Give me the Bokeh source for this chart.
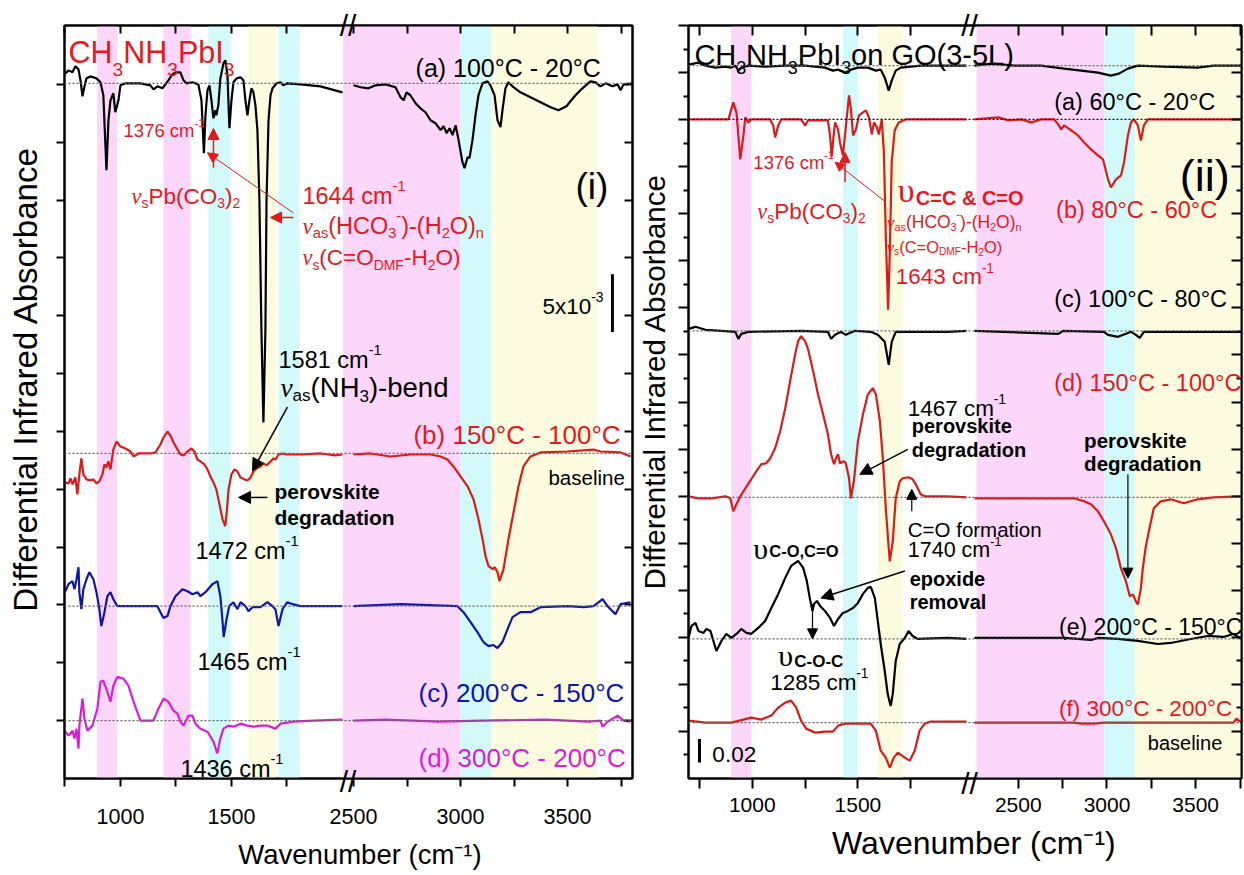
import numpy as np
from bokeh.plotting import figure
from bokeh.layouts import row
from bokeh.models import (Range1d, LinearAxis, FixedTicker, CustomJSTickFormatter,
                          BoxAnnotation, Span, Label, Arrow, NormalHead)
from bokeh.embed import file_html
from bokeh.resources import INLINE

FONT = "Liberation Sans"
SERIF = "Liberation Serif"
RED_TXT = "#e3191f"
RED = "#d81c1c"
BLUE = "#1016a6"
MAGENTA = "#d81ed8"
PINK, CYAN, YELLOW = "#fcd7f9", "#d3fafa", "#fcfbdf"
NBSP = "\u00a0"

# ---------------------------------------------------------------------------
# Panel (i): CH3NH3PbI3 film, differential spectra (values in 10^-3 absorbance)
# ---------------------------------------------------------------------------
i_a_wn = [752, 766, 784, 797, 811, 820, 829, 838, 847, 865, 892, 910, 923, 937, 946, 955, 968, 977,
          991, 1000, 1023, 1090, 1135, 1149, 1167, 1189, 1216, 1234, 1252, 1270, 1284, 1297, 1324,
          1351, 1365, 1376, 1383, 1392, 1401, 1410, 1419, 1428, 1432, 1441, 1450, 1464, 1473, 1482,
          1491, 1500, 1509, 1523, 1541, 1554, 1563, 1572, 1581, 1590, 1599, 1608, 1617, 1626, 1635,
          1644, 1653, 1658, 1667, 1676, 1685, 1703, 1721, 1734, 1752, 1811, 1901, 2000,
          2500, 2533, 2570, 2603, 2650, 2696, 2720, 2734, 2748, 2766, 2790, 2813, 2836, 2860, 2883,
          2907, 2921, 2935, 2949, 2963, 2977, 2991, 3009, 3019, 3033, 3042, 3056, 3070, 3084, 3103,
          3126, 3140, 3159, 3173, 3187, 3196, 3210, 3224, 3243, 3280, 3327, 3374, 3421, 3458, 3495,
          3537, 3570, 3607, 3631, 3654, 3678, 3710, 3734, 3748, 3762, 3804]
i_a_val = [0.86, 1.12, 0.95, 1.47, 1.21, 0.26, -1.12, -0.26, 0.43, 0.60, 0.43, 0.09, -1.03, -7.50,
           -3.19, -1.47, -0.86, -2.50, -1.47, -0.17, 0, 0, -0.17, -0.52, -0.26, -0.43, 0.26, 0.78,
           0.95, 0.95, 0.26, 0, 0.09, -0.09, -1.47, -6.03, -2.76, -0.60, -0.17, -1.47, -3.02, -2.33,
           -2.76, -1.90, 0.43, 1.72, 1.98, 0.69, -3.88, -1.47, 0.09, 0.43, 0.52, 0.26, -1.47, -2.76,
           -1.47, -0.43, -0.78, -1.90, -4.05, -10.09, -21.29, -29.31, -21.29, -10.09, -3.19, -1.03,
           -0.43, 0, 0.09, -0.17, 0, -0.09, -0.26, -0.78,
           -0.17, -0.34, -0.43, -0.17, -0.09, -0.34, -1.21, -1.47, -0.78, -1.03, -1.72, -2.16, -2.50,
           -3.19, -3.45, -4.05, -3.71, -4.31, -3.88, -4.48, -3.62, -4.91, -6.81, -7.33, -6.38, -6.47,
           -4.91, -2.76, -1.03, 0, 0.17, -0.17, -1.03, -3.19, -3.79, -2.33, -0.43, 0.09, -0.26, -0.78,
           -1.21, -1.64, -2.07, -2.33, -1.98, -1.03, -0.43, 0.17, 0.09, -0.26, 0, -0.26, -0.09, -0.60,
           -0.09, 0]

i_b_wn = [752, 766, 775, 784, 797, 806, 815, 824, 833, 847, 865, 878, 892, 905, 919, 928, 937, 946,
          955, 968, 982, 1000, 1023, 1045, 1059, 1081, 1135, 1158, 1180, 1194, 1212, 1225, 1239, 1257,
          1270, 1284, 1302, 1320, 1333, 1347, 1360, 1378, 1392, 1405, 1419, 1432, 1446, 1460, 1472,
          1478, 1487, 1500, 1514, 1527, 1541, 1559, 1572, 1586, 1599, 1613, 1631, 1644, 1658, 1676,
          1689, 1698, 1712, 1730, 1752, 1811, 1901, 1969, 2000,
          2500, 2579, 2673, 2766, 2860, 2907, 2939, 2967, 3000, 3033, 3061, 3084, 3103, 3117, 3131,
          3150, 3159, 3173, 3182, 3201, 3224, 3248, 3271, 3294, 3327, 3374, 3500, 3622, 3654, 3748,
          3795]
i_b_val = [-2.50, -2.59, -2.16, -2.67, -2.07, -3.53, -1.81, -0.43, -1.81, -2.24, -2.33, -2.24, -2.59,
           -2.41, -1.81, -0.95, -1.21, -0.69, -1.38, 0.34, 1.03, 0.60, 0.43, 0.17, -0.26, 0, 0, 0.09,
           0.78, 1.38, 1.90, 1.55, 0.95, 0.34, -0.09, -0.17, 0.17, 0.43, 0.17, -0.52, -0.69, -0.95,
           -1.38, -1.98, -2.50, -3.10, -4.40, -5.69, -6.29, -5.26, -3.10, -1.81, -1.38, -1.55, -2.07,
           -2.24, -2.33, -2.07, -1.55, -1.29, -1.12, -0.86, -1.03, -0.69, -0.43, -0.52, -0.09, 0,
           -0.09, -0.09, 0, -0.17, -0.09,
           -0.09, 0, -0.26, -0.09, -0.09, -0.26, -0.52, -1.12, -1.98, -2.84, -3.97, -5.69, -7.41,
           -8.88, -9.74, -10.00, -9.83, -10.26, -11.03, -10.00, -7.41, -5.09, -2.84, -1.12, -0.26,
           0.09, 0.17, 0.34, 0.17, 0.09, -0.26]

i_c_wn = [752, 766, 784, 793, 802, 811, 815, 824, 833, 847, 860, 878, 892, 905, 914, 928, 941, 955,
          968, 986, 1167, 1180, 1194, 1212, 1225, 1248, 1279, 1302, 1324, 1347, 1360, 1383, 1414,
          1437, 1450, 1458, 1465, 1478, 1490, 1509, 1527, 1541, 1563, 1577, 1595, 1631, 1662, 1685,
          1698, 1712, 1730, 1752, 1775, 1811, 2000,
          2500, 2720, 2986, 3014, 3047, 3079, 3107, 3131, 3154, 3173, 3196, 3220, 3243, 3280, 3327,
          3374, 3500, 3575, 3622, 3664, 3687, 3724, 3748, 3794]
i_c_val = [1.29, 1.90, 2.16, 1.47, 2.33, 3.36, 1.21, -0.26, 1.47, 2.33, 2.93, 2.33, 1.21, -0.26,
           -1.72, -0.52, 0.86, 1.21, 0.60, 0, 0, -0.52, -1.03, -0.86, 0, 0.86, 1.47, 1.29, 1.03, 1.21,
           0.86, 1.21, 1.90, 2.16, 0.86, -0.86, -2.67, -1.12, 0, 0.34, -0.26, 0.34, 0, -0.43, -0.09,
           -0.09, 0.34, 0, -0.26, -1.72, -0.26, 0.34, 0.17, 0, 0,
           0, 0.17, 0, -0.52, -1.38, -2.24, -3.10, -3.45, -3.36, -3.62, -3.10, -1.98, -0.95, -0.52,
           -0.52, -0.09, 0, -0.09, 0, 0.60, 0, -0.69, 0.17, 0.34]

i_d_wn = [752, 766, 784, 793, 802, 811, 815, 829, 838, 851, 874, 896, 910, 923, 941, 955, 968, 986,
          1014, 1036, 1059, 1090, 1149, 1171, 1194, 1216, 1239, 1257, 1270, 1284, 1306, 1324, 1338,
          1360, 1392, 1419, 1436, 1450, 1464, 1487, 1509, 1541, 1572, 1599, 1631, 1662, 1698, 1721,
          1779, 1869, 2000,
          2500, 2650, 2900, 3100, 3400, 3600, 3654, 3664, 3687, 3734, 3762, 3794]
i_d_val = [-0.95, -1.29, -0.86, -1.55, -0.69, -2.41, -0.43, 1.90, 0.17, -0.86, -0.43, 1.03, 3.36,
           3.45, 2.50, 1.64, 3.02, 3.79, 3.62, 3.02, 1.64, 0, 0, 1.03, 1.90, 1.64, 0.86, 0.60, -0.09,
           -0.43, 0.43, 0.43, -0.26, -0.69, -0.95, -1.81, -2.84, -1.55, -0.69, -0.43, -0.52, -0.26,
           -0.43, -0.52, -0.43, -0.43, -0.69, -0.26, -0.09, 0, 0.09,
           0, 0.09, -0.09, 0, 0.09, -0.09, 0, -0.52, -0.09, 0.43, 0, -0.09]

i_offsets = [0.0601, 0.0281, 0.0149, 0.0050]
i_colors = ["black", RED, BLUE, MAGENTA]
i_labels = ["(a) 100°C - 20°C", "(b) 150°C - 100°C", "(c) 200°C - 150°C", "(d) 300°C - 200°C"]
i_bands = [(895, 985, PINK), (1194, 1315, PINK), (1396, 1495, CYAN), (1577, 1703, YELLOW),
           (1712, 1806, CYAN), (2450, 3000, PINK), (3000, 3145, CYAN), (3145, 3640, YELLOW)]
i_scale_bar = 5e-3

# ---------------------------------------------------------------------------
# Panel (ii): CH3NH3PbI3 on GO(3-5L) (values in 10^-3 absorbance)
# ---------------------------------------------------------------------------
ii_a_wn = [698, 745, 778, 825, 873, 901, 920, 934, 948, 981, 1061, 1156, 1250, 1344, 1382, 1406,
           1439, 1467, 1500, 1547, 1585, 1608, 1627, 1646, 1660, 1679, 1703, 1797, 1925, 2014,
           2253, 2348, 2478, 2629, 2758, 2854, 2949, 3022, 3067, 3118, 3174, 3320, 3511, 3601, 3697,
           3758]
ii_a_val = [0.85, 2.55, 0, -1.70, -0.85, -1.70, 0, -4.26, -1.70, 0, -0.85, 0, 0, -1.70, -4.26,
            -3.40, -5.96, -3.40, -1.70, -1.70, -4.26, -3.40, -10.21, -21.28, -12.77, -4.26, -1.70,
            0, 0, 0,
            0, 1.70, 0, 0, -2.55, -4.26, -5.96, -8.51, -6.81, -2.55, 0, -0.85, -1.70, 0, 0, 0]

ii_b_wn = [698, 887, 910, 925, 934, 943, 958, 967, 981, 995, 1085, 1099, 1108, 1123, 1137, 1231,
           1250, 1264, 1358, 1368, 1376, 1385, 1392, 1406, 1415, 1429, 1439, 1453, 1458, 1467, 1477,
           1491, 1505, 1524, 1538, 1552, 1566, 1576, 1590, 1599, 1613, 1623, 1632, 1643, 1651, 1660,
           1674, 1693, 1726, 2014,
           2253, 2388, 2444, 2517, 2573, 2629, 2702, 2725, 2742, 2758, 2798, 2837, 2871, 2910, 2949,
           2978, 3006, 3022, 3051, 3079, 3096, 3118, 3135, 3152, 3174, 3191, 3208, 3230, 3758]
ii_b_val = [0, 0, 14.47, 5.96, -13.62, -34.04, -13.62, 1.70, -2.55, 0, 0, -5.11, -15.32, -5.11, 0,
            0, -5.11, -0.85, -0.85, -13.62, -31.49, -13.62, -2.55, -8.51, -19.57, -30.64, -13.62,
            11.91, 20.43, 8.51, -13.62, -8.51, 3.40, 5.96, 7.66, 1.70, -12.77, -2.55, -6.81, -12.77,
            0, -28.09, -98.72, -161.7, -112.3, -36.6, -9.36, -2.55, 0, 0,
            0, 1.70, -0.85, 0, -2.55, 0, 0, -4.26, -8.51, -5.11, -9.36, -13.62, -19.57, -25.53,
            -30.64, -34.04, -51.06, -57.87, -51.06, -47.66, -36.59, -13.62, -2.55, 0, -5.11, -17.87,
            -5.11, 0, 0]

ii_c_wn = [698, 731, 778, 854, 920, 934, 948, 981, 1231, 1358, 1373, 1392, 1420, 1443, 1486, 1561,
           1594, 1627, 1646, 1660, 1679, 1925, 2014,
           2253, 2725, 2753, 2983, 3006, 3062, 3107, 3135, 3163, 3185, 3208, 3758]
ii_c_val = [1.70, 3.40, 0.85, 0, -0.85, -6.81, -2.55, -0.85, 0, -0.85, -6.81, -3.40, -0.85, -3.40,
            0, -0.85, -3.40, -9.36, -28.94, -9.36, -0.85, -0.85, 0,
            0, -2.55, 0, -0.85, -3.40, -5.11, -2.55, -0.85, -3.40, -5.96, -0.85, -0.85]

ii_d_wn = [698, 745, 807, 873, 896, 910, 925, 943, 967, 995, 1019, 1042, 1066, 1085, 1108, 1132,
           1156, 1179, 1203, 1217, 1231, 1250, 1264, 1288, 1311, 1335, 1358, 1373, 1387, 1396, 1406,
           1415, 1434, 1443, 1458, 1467, 1481, 1500, 1524, 1547, 1571, 1585, 1604, 1618, 1632, 1646,
           1651, 1665, 1679, 1698, 1712, 1740, 1759, 1774, 1797, 1816, 1925, 2014,
           2253, 2388, 2573, 2815, 2871, 2910, 2949, 2983, 3022, 3051, 3079, 3107, 3129, 3146, 3163,
           3174, 3191, 3202, 3219, 3236, 3264, 3303, 3360, 3433, 3511, 3601, 3758]
ii_d_val = [0.85, -0.85, -0.85, 0.85, -0.85, -11.91, -5.96, 0.85, 7.66, 15.32, 22.13, 28.08, 28.93,
            33.19, 41.70, 56.17, 75.74, 98.72, 121.69, 132.76, 137.01, 132.76, 125.95, 107.23, 87.65,
            70.63, 53.61, 36.59, 28.08, 33.19, 36.59, 28.93, 30.64, 28.93, 16.17, -0.85, 13.62, 47.66,
            70.63, 87.65, 92.76, 87.65, 64.68, 33.19, -9.36, -43.40, -54.46, -37.44, -0.85, 13.62,
            16.17, 17.02, 15.32, 11.06, 2.55, 0.85, 0.85, 0,
            -0.85, -0.85, -0.85, -0.85, -3.40, -5.96, -11.91, -20.42, -31.49, -43.40, -60.42, -71.48,
            -84.25, -82.55, -88.51, -91.06, -77.44, -60.42, -41.70, -28.93, -9.36, -3.40, -1.70,
            -5.11, -1.70, 0, 0.85]

ii_e_wn = [698, 712, 731, 745, 769, 783, 802, 816, 830, 854, 877, 901, 925, 948, 972, 995, 1028,
           1061, 1090, 1123, 1156, 1184, 1217, 1241, 1258, 1272, 1285, 1292, 1306, 1321, 1344, 1368,
           1387, 1406, 1429, 1453, 1477, 1500, 1524, 1547, 1561, 1580, 1594, 1608, 1627, 1641, 1655,
           1665, 1679, 1698, 1722, 1740, 1759, 1783, 1925, 2014,
           2253, 2478, 2758, 2910, 2949, 3062, 3174, 3286, 3360, 3472, 3567, 3657, 3713, 3758]
ii_e_val = [0.85, 11.06, 13.62, 6.81, 5.11, 8.51, 6.81, -1.70, -10.21, -1.70, 4.26, 0.85, 4.26, 8.51,
            5.11, 4.26, 9.36, 15.32, 26.38, 38.30, 51.91, 62.12, 66.38, 60.42, 49.36, 34.89, 23.83,
            29.79, 32.34, 28.08, 23.83, 17.87, 11.06, 17.02, 22.13, 23.83, 26.38, 30.64, 38.30, 43.40,
            44.25, 34.89, 15.32, -4.26, -27.23, -46.81, -57.02, -46.81, -18.72, -4.26, 0.85, 6.81,
            2.55, 0, 0.85, 0,
            0.85, 0.85, 0.85, -0.85, 0.85, 0, -1.70, -4.26, -3.40, 0, 2.55, 1.70, 4.26, 0]

ii_f_wn = [698, 778, 901, 995, 1042, 1066, 1090, 1123, 1156, 1184, 1208, 1231, 1255, 1297, 1344,
           1382, 1406, 1439, 1500, 1561, 1585, 1608, 1632, 1651, 1670, 1689, 1722, 1745, 1769, 1792,
           1816, 1844, 2014,
           2253, 2815, 2854, 2927, 2983, 3713, 3730, 3758]
ii_f_val = [1.70, 0, 0, 4.26, 2.55, 4.26, 5.96, 12.77, 17.02, 18.72, 12.77, 1.70, -5.11, -8.51,
            -7.66, -7.66, -2.55, -0.85, -0.85, -0.85, -6.81, -23.83, -29.79, -38.30, -29.79, -25.53,
            -29.79, -32.34, -23.83, -6.81, -0.85, 0.85, 0.85,
            0, 0, -0.85, -0.85, 0, 0, 3.40, 0]

ii_offsets = [0.6059, 0.5602, 0.3805, 0.2390, 0.1186, 0.0475]
ii_colors = ["black", RED, "black", RED, "black", RED]
ii_labels = ["(a) 60°C - 20°C", "(b) 80°C - 60°C", "(c) 100°C - 80°C", "(d) 150°C - 100°C",
             "(e) 200°C - 150°C", "(f) 300°C - 200°C"]
ii_bands = [(900, 995, PINK), (1429, 1500, CYAN), (1594, 1712, YELLOW), (2265, 2985, PINK),
            (2985, 3157, CYAN), (3157, 3800, YELLOW)]
ii_scale_bar = 0.02

tick_wn = [750, 1000, 1250, 1500, 1750, 2500, 2750, 3000, 3250, 3500, 3750]
tick_text = {1000: "1000", 1500: "1500", 2500: "2500", 3000: "3000", 3500: "3500"}


# ---------------------------------------------------------------------------
# helpers
# ---------------------------------------------------------------------------
def broken_axis(wn0, k1, cut, wn_r, d_r, k2):
    """Map wavenumber onto a screen-like coordinate with a gap between two segments."""
    def f(w):
        w = np.asarray(w, dtype=float)
        out = np.where(w < cut, (w - wn0) * k1, d_r + (w - wn_r) * k2)
        return float(out) if out.ndim == 0 else out
    return f


REG = {' ': 278, '(': 333, ')': 333, '-': 333, ',': 278, '.': 278, '=': 584, '&': 667, '°': 400,
       'A': 667, 'C': 722, 'D': 722, 'F': 611, 'G': 778, 'H': 722, 'I': 278, 'L': 556, 'M': 833,
       'N': 722, 'O': 778, 'P': 667, 'W': 944, 'a': 556, 'b': 556, 'c': 500, 'd': 556, 'e': 556,
       'f': 278, 'g': 556, 'i': 222, 'k': 500, 'l': 222, 'm': 833, 'n': 556, 'o': 556, 'p': 556,
       'r': 333, 's': 500, 't': 278, 'u': 556, 'v': 500, 'x': 500, 'ν': 440, 'υ': 520}
BOLD = {' ': 278, '(': 333, ')': 333, '-': 333, ',': 278, '=': 584, '&': 722, 'C': 722, 'O': 778,
        'a': 556, 'd': 611, 'e': 556, 'g': 611, 'i': 278, 'k': 556, 'l': 278, 'm': 889, 'n': 611,
        'o': 611, 'p': 611, 'r': 389, 's': 556, 't': 333, 'v': 556, 'x': 556}


def text_w(s, size, bold=False):
    tab = BOLD if bold else REG
    return sum(tab.get(ch, REG.get(ch, 556)) for ch in s) * size / 1000.0


def rich(p, x, y, runs, size, color, ypp, sub=0.62, sub_dy=0.3, sup_dy=0.42, bold=False):
    """Draw text made of runs: 'n' normal, 'sub', 'sup', 'nu' (greek, serif italic)."""
    cx = x
    for text, kind in runs:
        fs, dy, font, style = size, 0.0, FONT, ("bold" if bold else "normal")
        if kind == "sub":
            fs, dy = size * sub, size * sub_dy
        elif kind == "sup":
            fs, dy = size * sub, -size * sup_dy
        elif kind == "nu":
            font, style = SERIF, "italic"
        p.add_layout(Label(x=cx, y=y - dy * ypp, text=text, text_font=font,
                           text_font_size=f"{fs:.1f}px", text_font_style=style,
                           text_color=color, text_align="left", text_baseline="alphabetic"))
        cx += text_w(text, fs, bold and kind != "nu")
    return cx


def arrow(p, x0, y0, x1, y1, color="black", width=1.5, head=12):
    p.add_layout(Arrow(x_start=x0, y_start=y0, x_end=x1, y_end=y1, line_color=color,
                       line_width=width,
                       end=NormalHead(size=head, fill_color=color, line_color=color)))


def with_gap(wn, val, off, amap, cut):
    xs, ys = [], []
    prev = None
    for w, v in zip(wn, val):
        if prev is not None and prev < cut <= w:
            xs.append(np.nan)
            ys.append(np.nan)
        xs.append(amap(w))
        ys.append(off + v * 1e-3)
        prev = w
    return np.array(xs), np.array(ys)


def make_panel(width, height, frame_w, top, borders, amap, xbreak, bands, yticks, yminor,
               tick_font, major_out, minor_out, label_standoff, xlabel, xlabel_size, xlabel_off,
               ylabel, ylabel_size, ylabel_off):
    p = figure(width=width, height=height, x_range=Range1d(0, frame_w), y_range=Range1d(0, top),
               output_backend="svg", toolbar_location=None,
               min_border_left=borders[0], min_border_right=borders[1],
               min_border_top=borders[2], min_border_bottom=borders[3])
    p.grid.visible = False
    p.outline_line_color = "black"
    p.outline_line_width = 2
    p.background_fill_color = "white"
    p.border_fill_color = "white"

    pos = [amap(w) for w in tick_wn]
    labs = [tick_text.get(w, "") for w in tick_wn]
    fmt = CustomJSTickFormatter(args=dict(pos=pos, lab=labs), code="""
        for (let i = 0; i < pos.length; i++) {
            if (Math.abs(pos[i] - tick) < 1e-6) { return lab[i]; }
        }
        return "";""")
    blank = CustomJSTickFormatter(code="return '';")
    slashes = CustomJSTickFormatter(code="return '//';")
    # the break sits on a major tick of zero length; real ticks are drawn as minor ticks
    brk_ticker = FixedTicker(ticks=[xbreak], minor_ticks=pos)
    yt = FixedTicker(ticks=yticks, minor_ticks=yminor)

    def style(ax, ticker, formatter, inward, mj=major_out, mn=minor_out):
        ax.ticker = ticker
        ax.formatter = formatter
        ax.axis_line_width = 2
        ax.axis_line_color = "black"
        ax.major_tick_line_width = 2
        ax.minor_tick_line_width = 2
        ax.major_tick_in = mj if inward else 0
        ax.major_tick_out = 0 if inward else mj
        ax.minor_tick_in = mn if inward else 0
        ax.minor_tick_out = 0 if inward else mn
        ax.major_label_text_font = FONT
        ax.major_label_text_color = "black"
        ax.axis_label_text_font = FONT
        ax.axis_label_text_font_style = "normal"
        ax.axis_label_text_color = "black"

    # bottom: axis line, ticks and break mark
    bx = p.below[0]
    style(bx, brk_ticker, slashes, False, 0, major_out)
    bx.major_label_text_font_size = "30px"
    bx.major_label_standoff = -22

    # bottom: tick numbers and title
    bx2 = LinearAxis()
    style(bx2, FixedTicker(ticks=pos), fmt, False, 0, 0)
    bx2.axis_line_color = None
    bx2.major_label_text_font_size = tick_font
    bx2.major_label_standoff = label_standoff
    bx2.axis_label = xlabel
    bx2.axis_label_text_font_size = xlabel_size
    bx2.axis_label_standoff = xlabel_off
    p.add_layout(bx2, "below")

    ly = p.left[0]
    style(ly, yt, blank, False)
    ly.major_label_text_font_size = "1px"
    ly.major_label_standoff = 0
    ly.axis_label = ylabel
    ly.axis_label_text_font_size = ylabel_size
    ly.axis_label_standoff = ylabel_off

    top_ax = LinearAxis()
    style(top_ax, brk_ticker, slashes, True, 0, major_out)
    top_ax.major_label_text_font_size = "30px"
    top_ax.major_label_standoff = -16
    right_ax = LinearAxis()
    style(right_ax, yt, blank, True)
    right_ax.major_label_text_font_size = "1px"
    right_ax.major_label_standoff = 0
    p.add_layout(top_ax, "above")
    p.add_layout(right_ax, "right")

    for lo, hi, c in bands:
        p.add_layout(BoxAnnotation(left=amap(lo), right=amap(hi), fill_color=c, fill_alpha=1.0,
                                   line_alpha=0, level="underlay"))
    return p


# ---------------------------------------------------------------------------
# Panel (i)
# ---------------------------------------------------------------------------
m1 = broken_axis(748, 0.222, 2200, 2500, 289, 0.214)
Y1 = 0.0651
ypp1 = 0.005 / 58.0
p1 = make_panel(634, 875, 568, Y1, (64, 2, 25, 95), m1, (m1(2000) + m1(2500)) / 2, i_bands,
                [0.005 * k for k in range(1, 13)], [], "21.5px", 8, 0, 8,
                NBSP * 3 + "Wavenumber (cm⁻¹)", "27.5px", 12,
                NBSP * 5 + "Differential Infrared Absorbance", "33px", 13)
p1.below[0].minor_tick_out = 8

for off in i_offsets:
    p1.add_layout(Span(location=off, dimension="width", line_color="#666666",
                       line_dash="2 2", line_width=1.2))
for wn, val, off, col in zip([i_a_wn, i_b_wn, i_c_wn, i_d_wn], [i_a_val, i_b_val, i_c_val, i_d_val],
                             i_offsets, i_colors):
    xs, ys = with_gap(wn, val, off, m1, 2200)
    p1.line(xs, ys, line_color=col, line_width=2.2)

# scale bar 5x10^-3
sb_y = 0.0386
p1.segment(x0=[m1(3710)], y0=[sb_y], x1=[m1(3710)], y1=[sb_y + i_scale_bar],
           line_color="black", line_width=3)
rich(p1, m1(3383), 0.0408, [("5x10", "n"), ("-3", "sup")], 22.5, "black", ypp1)

rich(p1, m1(766), 0.0628, [("CH", "n"), ("3", "sub"), ("NH", "n"), ("3", "sub"), ("PbI", "n"),
                           ("3", "sub")], 30.5, RED_TXT, ypp1, sub=0.63, sub_dy=0.58)
rich(p1, m1(2790), 0.0614, [(i_labels[0], "n")], 25, "black", ypp1)
rich(p1, m1(3537), 0.0512, [("(i)", "n")], 37, "black", ypp1)
rich(p1, m1(2780), 0.0297, [(i_labels[1], "n")], 26, RED_TXT, ypp1)
rich(p1, m1(2804), 0.0074, [(i_labels[2], "n")], 26, BLUE, ypp1)
rich(p1, m1(2804), 0.0018, [(i_labels[3], "n")], 26, MAGENTA, ypp1)
rich(p1, m1(3411), 0.0260, [("baseline", "n")], 20.5, "black", ypp1)

rich(p1, m1(1014), 0.0560, [("1376 cm", "n"), ("-1", "sup")], 18.5, RED_TXT, ypp1)
rich(p1, m1(1050), 0.0503, [("ν", "nu"), ("s", "sub"), ("Pb(CO", "n"), ("3", "sub"), (")", "n"),
                            ("2", "sub")], 22.5, RED_TXT, ypp1)
rich(p1, m1(1820), 0.0504, [("1644 cm", "n"), ("-1", "sup")], 23.5, RED_TXT, ypp1)
rich(p1, m1(1820), 0.0478, [("ν", "nu"), ("as", "sub"), ("(HCO", "n"), ("3", "sub"), ("-", "sup"),
                            (")-(H", "n"), ("2", "sub"), ("O)", "n"), ("n", "sub")], 23.5, RED_TXT,
     ypp1)
rich(p1, m1(1820), 0.0450, [("ν", "nu"), ("s", "sub"), ("(C=O", "n"), ("DMF", "sub"), ("-H", "n"),
                            ("2", "sub"), ("O)", "n")], 22.5, RED_TXT, ypp1)
arrow(p1, m1(1419), 0.0528, m1(1419), 0.0562, RED_TXT, 1.5, 11)
arrow(p1, m1(1779), 0.0489, m1(1392), 0.0541, RED_TXT, 1.0, 10)
arrow(p1, m1(1779), 0.0485, m1(1676), 0.0485, RED_TXT, 1.5, 11)

rich(p1, m1(1712), 0.0362, [("1581 cm", "n"), ("-1", "sup")], 23.5, "black", ypp1)
rich(p1, m1(1721), 0.0338, [("ν", "nu"), ("as", "sub"), ("(NH", "n"), ("3", "sub"),
                            (")-bend", "n")], 27.5, "black", ypp1)
arrow(p1, m1(1752), 0.0321, m1(1595), 0.0266)
rich(p1, m1(1694), 0.0248, [("perovskite", "n")], 21, "black", ypp1, bold=True)
rich(p1, m1(1694), 0.0226, [("degradation", "n")], 21, "black", ypp1, bold=True)
arrow(p1, m1(1662), 0.0243, m1(1532), 0.0243)
rich(p1, m1(1338), 0.0197, [("1472 cm", "n"), ("-1", "sup")], 23.5, "black", ypp1)
rich(p1, m1(1347), 0.0101, [("1465 cm", "n"), ("-1", "sup")], 23.5, "black", ypp1)
rich(p1, m1(1270), 0.0008, [("1436 cm", "n"), ("-1", "sup")], 23.5, "black", ypp1)

# ---------------------------------------------------------------------------
# Panel (ii)
# ---------------------------------------------------------------------------
m2 = broken_axis(698, 0.212, 2150, 2500, 331, 0.178)
Y2 = 0.640
ypp2 = 0.02 / 23.6
p2 = make_panel(610, 875, 555, Y2, (52, 3, 23, 97), m2, (m2(2005) + m2(2253)) / 2, ii_bands,
                [0.04 * k for k in range(1, 17)], [0.02 + 0.04 * k for k in range(0, 16)],
                "21px", 10, 5, -5, NBSP * 2 + "Wavenumber (cm⁻¹)", "32px", 10,
                NBSP * 5 + "Differential Infrared Absorbance", "29.5px", 8)
p2.below[0].minor_tick_out = 10
p2.above[0].minor_tick_in = 10

for k, off in enumerate(ii_offsets):
    dash_col = "#111111" if k == 1 else "#666666"
    p2.add_layout(Span(location=off, dimension="width", line_color=dash_col,
                       line_dash="2 2", line_width=1.2))
ii_wn = [ii_a_wn, ii_b_wn, ii_c_wn, ii_d_wn, ii_e_wn, ii_f_wn]
ii_val = [ii_a_val, ii_b_val, ii_c_val, ii_d_val, ii_e_val, ii_f_val]
for wn, val, off, col in zip(ii_wn, ii_val, ii_offsets, ii_colors):
    xs, ys = with_gap(wn, val, off, m2, 2150)
    p2.line(xs, ys, line_color=col, line_width=2.2)

p2.segment(x0=[m2(750)], y0=[0.0136], x1=[m2(750)], y1=[0.0136 + ii_scale_bar],
           line_color="black", line_width=3)
rich(p2, m2(811), 0.0203, [("0.02", "n")], 22.5, "black", ypp2)

rich(p2, m2(726), 0.6153, [("CH", "n"), ("3", "sub"), ("NH", "n"), ("3", "sub"), ("PbI", "n"),
                           ("3", "sub"), (" on GO(3-5L)", "n")], 29, "black", ypp2, sub_dy=0.45)
rich(p2, m2(3410), 0.5122, [("(ii)", "n")], 45, "black", ypp2)
label_y2 = [0.5754, 0.4831, 0.4076, 0.3365, 0.1288, 0.0593]
label_x2 = [2702, 2713, 2702, 2702, 2730, 2730]
label_s2 = [23.5, 23.5, 23.5, 23.5, 23, 22.5]
label_c2 = ["black", RED_TXT, "black", RED_TXT, "black", RED_TXT]
for t, lx, ly, ls, lc in zip(ii_labels, label_x2, label_y2, label_s2, label_c2):
    rich(p2, m2(lx), ly, [(t, "n")], ls, lc, ypp2)
rich(p2, m2(3230), 0.0305, [("baseline", "n")], 20, "black", ypp2)

rich(p2, m2(1005), 0.5236, [("1376 cm", "n"), ("-1", "sup")], 18.5, RED_TXT, ypp2)
arrow(p2, m2(1439), 0.5068, m2(1439), 0.5322, RED_TXT, 1.5, 10)
arrow(p2, m2(1632), 0.4899, m2(1392), 0.5238, RED_TXT, 1.0, 9)
rich(p2, m2(1024), 0.4817, [("ν", "nu"), ("s", "sub"), ("Pb(CO", "n"), ("3", "sub"), (")", "n"),
                            ("2", "sub")], 22.5, RED_TXT, ypp2)
p2.add_layout(Label(x=m2(1689), y=0.5000, text="υ", text_font=SERIF, text_font_size="34px",
                    text_color=RED_TXT, text_align="left", text_baseline="alphabetic"))
rich(p2, m2(1689) + 18, 0.5000 - 8 * ypp2, [("C=C & C=O", "n")], 20, RED_TXT, ypp2, bold=True)
rich(p2, m2(1637), 0.4733, [("ν", "nu"), ("as", "sub"), ("(HCO", "n"), ("3", "sub"), ("-", "sup"),
                            (")-(H", "n"), ("2", "sub"), ("O)", "n"), ("n", "sub")], 17.5, RED_TXT,
     ypp2)
rich(p2, m2(1637), 0.4517, [("ν", "nu"), ("s", "sub"), ("(C=O", "n"), ("DMF", "sub"), ("-H", "n"),
                            ("2", "sub"), ("O)", "n")], 16.5, RED_TXT, ypp2)
rich(p2, m2(1679), 0.4263, [("1643 cm", "n"), ("-1", "sup")], 22.5, RED_TXT, ypp2)

rich(p2, m2(1736), 0.3144, [("1467 cm", "n"), ("-1", "sup")], 22.5, "black", ypp2)
rich(p2, m2(1755), 0.2992, [("perovskite", "n")], 20, "black", ypp2, bold=True)
rich(p2, m2(1755), 0.2788, [("degradation", "n")], 20, "black", ypp2, bold=True)
arrow(p2, m2(1736), 0.2797, m2(1509), 0.2585)
rich(p2, m2(2871), 0.2873, [("perovskite", "n")], 20.5, "black", ypp2, bold=True)
rich(p2, m2(2871), 0.2678, [("degradation", "n")], 20.5, "black", ypp2, bold=True)
arrow(p2, m2(3118), 0.2585, m2(3118), 0.1703, "black", 1.2, 10)
rich(p2, m2(1736), 0.2119, [("C=O formation", "n")], 20.5, "black", ypp2)
rich(p2, m2(1736), 0.1941, [("1740 cm", "n"), ("-1", "sup")], 21.5, "black", ypp2)
arrow(p2, m2(1755), 0.2271, m2(1755), 0.2458, "black", 1.2, 10)

p2.add_layout(Label(x=m2(1005), y=0.1958, text="υ", text_font=SERIF, text_font_size="30px",
                    text_color="black", text_align="left", text_baseline="alphabetic"))
rich(p2, m2(1005) + 16, 0.1958 - 3 * ypp2, [("C-O,C=O", "n")], 16.5, "black", ypp2, bold=True)
rich(p2, m2(1745), 0.1695, [("epoxide", "n")], 20, "black", ypp2, bold=True)
rich(p2, m2(1745), 0.1500, [("removal", "n")], 20, "black", ypp2, bold=True)
arrow(p2, m2(1722), 0.1763, m2(1325), 0.1534)
p2.add_layout(Label(x=m2(1123), y=0.1042, text="υ", text_font=SERIF, text_font_size="30px",
                    text_color="black", text_align="left", text_baseline="alphabetic"))
rich(p2, m2(1123) + 16, 0.1042 - 6 * ypp2, [("C-O-C", "n")], 17, "black", ypp2, bold=True)
arrow(p2, m2(1285), 0.1483, m2(1285), 0.1187, "black", 1.2, 10)
rich(p2, m2(1085), 0.0814, [("1285 cm", "n"), ("-1", "sup")], 22.5, "black", ypp2)

layout = row(p1, p2)
open("out.html", "w").write(file_html(layout, INLINE))
